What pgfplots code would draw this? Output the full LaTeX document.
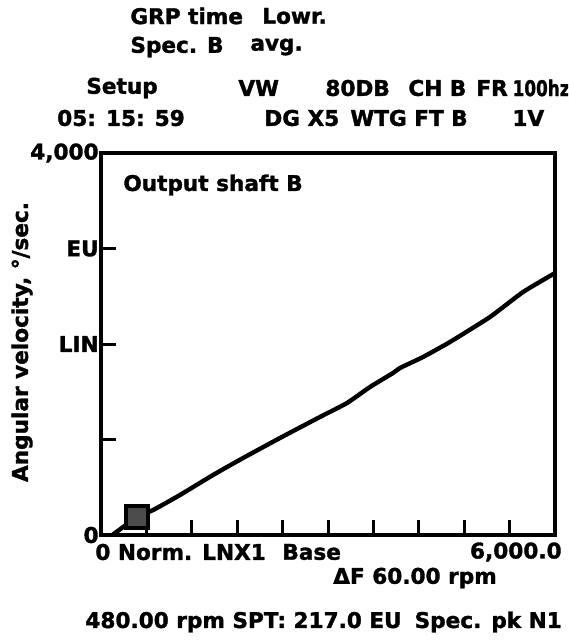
\documentclass[border=0pt]{standalone}
\usepackage{fontspec}
\setmainfont{DejaVu Sans}[BoldFeatures={FakeBold=1.5}]
\usepackage{pgfplots}
\pgfplotsset{compat=1.18}
\begin{document}
\begin{tikzpicture}[font=\bfseries\fontsize{10.8}{13}\selectfont]
\useasboundingbox (0,0) rectangle (284pt,-320.5pt);
\begin{axis}[
    at={(50.5pt,-267.5pt)}, anchor=south west,
    width=227pt, height=191pt, scale only axis,
    xmin=0, xmax=6000, ymin=0, ymax=4000,
    axis line style={line width=1.9pt},
    tick align=inside,
    xtick pos=bottom, ytick pos=left,
    major tick length=7.5pt,
    every tick/.style={black, line width=1.5pt},
    xtick={600,1200,...,5400},
    xticklabels={},
    ytick={0,1000,2000,3000,4000},
    yticklabels={0,,LIN,EU,{4,000}},
    yticklabel style={font=\bfseries\fontsize{10.8}{13}\selectfont, inner sep=1pt},
  ]
  \addplot[black, line width=2.2pt, smooth, tension=0.3] coordinates {
    (150,0) (480,190) (690,262) (1044,419) (1480,628) (1877,806)
    (2366,1016) (2894,1236) (3251,1382) (3555,1550) (3859,1696)
    (3952,1749) (4256,1864) (4612,2021) (5141,2283) (5577,2544) (6000,2743)
  };
  \addplot[only marks, mark=square*, mark size=5.5pt,
    mark options={fill=black!70, draw=black, line width=2pt, rounded corners=1.5pt}]
    coordinates {(480,190)};
\end{axis}
\begin{scope}[x=0.5pt,y=-0.5pt]
\clip (0,0) rectangle (568,641);
% header text
\node[anchor=west,inner sep=0pt] at (130,16) {GRP time};
\node[anchor=west,inner sep=0pt] at (262,16) {Lowr.};
\node[anchor=west,inner sep=0pt] at (130,47) {Spec. B};
\node[anchor=west,inner sep=0pt] at (250,47) {avg.};
\node[inner sep=0pt] at (122,88) {Setup};
\node[inner sep=0pt] at (121,118) {05: 15: 59};
\node[anchor=west,inner sep=0pt] at (238,88) {VW};
\node[anchor=west,inner sep=0pt] at (325,88) {80DB};
\node[anchor=west,inner sep=0pt] at (408,88) {CH B};
\node[anchor=west,inner sep=0pt] at (476,88) {FR};
\node[anchor=east,inner sep=0pt] at (570,88) {\scalebox{0.78}[1]{100hz}};
\node[anchor=west,inner sep=0pt] at (264,118) {DG X5};
\node[anchor=west,inner sep=0pt] at (350,118) {WTG FT B};
\node[anchor=west,inner sep=0pt] at (512,118) {1V};
% annotations around the axis
\node[anchor=west,inner sep=0pt] at (123,185) {Output shaft B};
\node[rotate=90,inner sep=0pt] at (22,342) {Angular velocity, °/sec.};
\node[anchor=west,inner sep=0pt] at (95,552) {0 Norm. LNX1};
\node[anchor=west,inner sep=0pt] at (282,552) {Base};
\node[anchor=east,inner sep=0pt] at (562,552) {6,000.0};
\node[inner sep=0pt] at (415,578) {ΔF 60.00 rpm};
\node[anchor=west,inner sep=0pt] at (85,622) {480.00 rpm SPT: 217.0 EU\hspace{0.6em}Spec. pk N1};
\end{scope}
\end{tikzpicture}
\end{document}
